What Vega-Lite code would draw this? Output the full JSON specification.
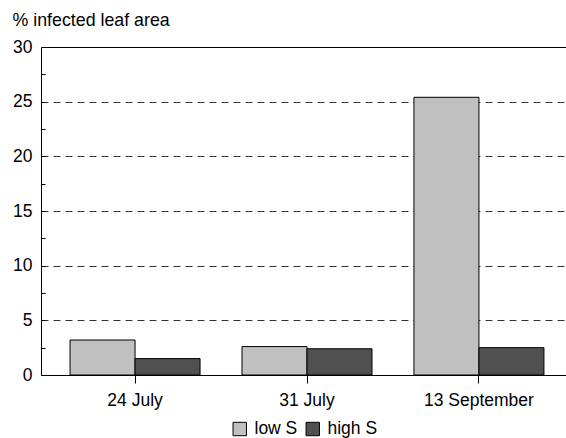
{
  "$schema": "https://vega.github.io/schema/vega-lite/v6.json",
  "width": 532,
  "height": 328,
  "autosize": "none",
  "padding": {"left": 41, "top": 47, "right": 0, "bottom": 63},
  "background": "white",
  "config": {"view": {"stroke": null}, "font": "Liberation Sans"},
  "data": {"values": [
    {"date": "24 July", "series": "low S", "value": 3.2},
    {"date": "24 July", "series": "high S", "value": 1.5},
    {"date": "31 July", "series": "low S", "value": 2.6},
    {"date": "31 July", "series": "high S", "value": 2.4},
    {"date": "13 September", "series": "low S", "value": 25.4},
    {"date": "13 September", "series": "high S", "value": 2.5}
  ]},
  "mark": {"type": "bar", "stroke": "black", "strokeWidth": 1},
  "encoding": {
    "x": {
      "field": "date", "type": "nominal", "sort": null,
      "scale": {"paddingInner": 0.244, "paddingOuter": 0.169},
      "axis": {"title": null, "labelAngle": 0, "labelFontSize": 17.5, "labelColor": "black", "tickSize": 8, "tickColor": "black", "domainColor": "black", "labelPadding": 8, "grid": false}
    },
    "xOffset": {"field": "series", "type": "nominal", "sort": ["low S", "high S"]},
    "y": {
      "field": "value", "type": "quantitative",
      "scale": {"domain": [0, 30], "nice": false},
      "axis": {
        "values": [0, 2.5, 5, 7.5, 10, 12.5, 15, 17.5, 20, 22.5, 25, 27.5, 30],
        "labelExpr": "datum.value % 5 === 0 ? datum.label : ''",
        "title": "% infected leaf area", "titleAngle": 0, "titleAlign": "left", "titleBaseline": "alphabetic",
        "titleX": -29, "titleY": -22, "titleFontSize": 17.8, "titleFontWeight": "normal", "titleColor": "black",
        "labelFontSize": 17.5, "labelColor": "black", "tickSize": -4, "tickColor": "black", "labelPadding": 13,
        "domainColor": "black",
        "grid": true,
        "gridColor": {"condition": {"test": "datum.value === 30", "value": "black"}, "value": "#333333"},
        "gridDash": {"condition": {"test": "datum.value === 30", "value": []}, "value": [7, 5]},
        "gridOpacity": {"condition": {"test": "datum.value % 5 === 0 && datum.value > 0", "value": 1}, "value": 0}
      }
    },
    "color": {
      "field": "series", "type": "nominal",
      "scale": {"domain": ["low S", "high S"], "range": ["#c0c0c0", "#505050"]},
      "legend": {"title": null, "orient": "none", "direction": "horizontal", "legendX": 190, "legendY": 373,
        "symbolType": "square", "symbolSize": 180, "symbolStrokeColor": "black", "symbolStrokeWidth": 1,
        "symbolOpacity": 1, "labelFontSize": 17.5, "labelColor": "black", "labelOffset": 6, "columnPadding": 6}
    }
  }
}
